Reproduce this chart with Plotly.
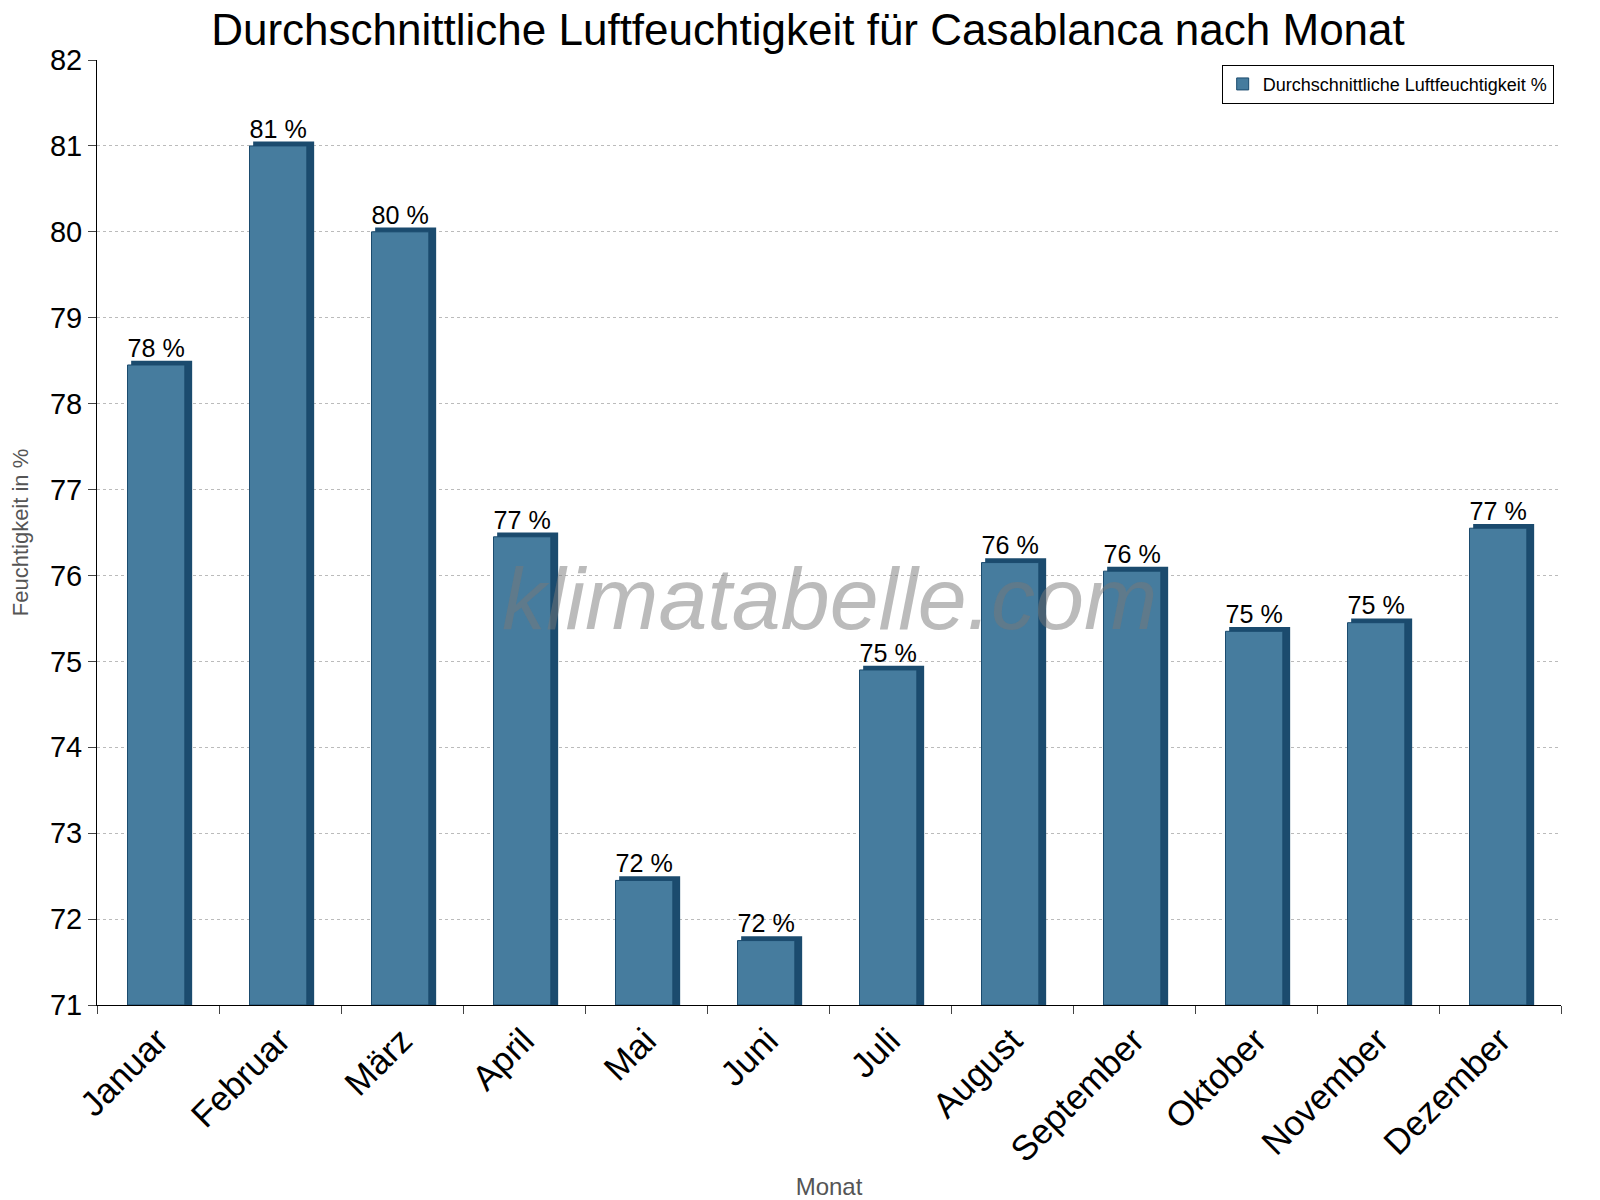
import plotly.graph_objects as go

months = ["Januar", "Februar", "März", "April", "Mai", "Juni", "Juli", "August",
          "September", "Oktober", "November", "Dezember"]
humidity = [78.5, 81.05, 80.05, 76.5, 72.5, 71.8, 74.95, 76.2, 76.1, 75.4, 75.5, 76.6]
labels = ["78 %", "81 %", "80 %", "77 %", "72 %", "72 %", "75 %", "76 %", "76 %", "75 %", "75 %", "77 %"]

dark = "#1b4b6e"
light = "#467c9e"

fig = go.Figure()
# dark back bar gives the side/top edge
fig.add_trace(go.Bar(x=months, y=[h - 71 for h in humidity], base=71, width=0.5, offset=-0.22,
                     marker=dict(color=dark, line=dict(width=0)), showlegend=False, hoverinfo="skip"))
fig.add_trace(go.Bar(x=months, y=[h - 71.05 for h in humidity], base=71, width=0.47, offset=-0.25,
                     marker=dict(color=light, line=dict(color=dark, width=1)),
                     name="Durchschnittliche Luftfeuchtigkeit %",
                     text=labels, textposition="outside", cliponaxis=False,
                     textfont=dict(size=29, color="black")))

fig.update_layout(
    width=1600, height=1200, barmode="overlay", plot_bgcolor="white", paper_bgcolor="white",
    font=dict(family="Liberation Sans, Arial", color="black"),
    title=dict(text="Durchschnittliche Luftfeuchtigkeit für Casablanca nach Monat",
               x=0.5, y=0.995, yanchor="top", font=dict(size=44)),
    margin=dict(l=82, r=47, t=52, b=195),
    legend=dict(x=0.995, y=0.995, xanchor="right", yanchor="top", bordercolor="black",
                borderwidth=1, font=dict(size=18), bgcolor="white"),
    annotations=[dict(text="<i>klimatabelle.com</i>", x=0.5, y=0.43, xref="paper", yref="paper",
                      showarrow=False, font=dict(size=88, color="rgba(120,120,120,0.5)",
                                                 family="Liberation Sans"))],
)
fig.update_xaxes(title=dict(text="Monat", font=dict(size=24, color="#555"), standoff=10),
                 tickangle=-45, tickfont=dict(size=35), showline=True, linecolor="black",
                 ticks="outside", tickson="boundaries", ticklen=8, showgrid=False)
fig.update_yaxes(title=dict(text="Feuchtigkeit in %", font=dict(size=22, color="#555")),
                 range=[71, 82], dtick=1, tickfont=dict(size=29), showline=True,
                 linecolor="black", ticks="outside", ticklen=8,
                 gridcolor="#bbb", griddash="dot", zeroline=False)
fig.write_html("out.html")
